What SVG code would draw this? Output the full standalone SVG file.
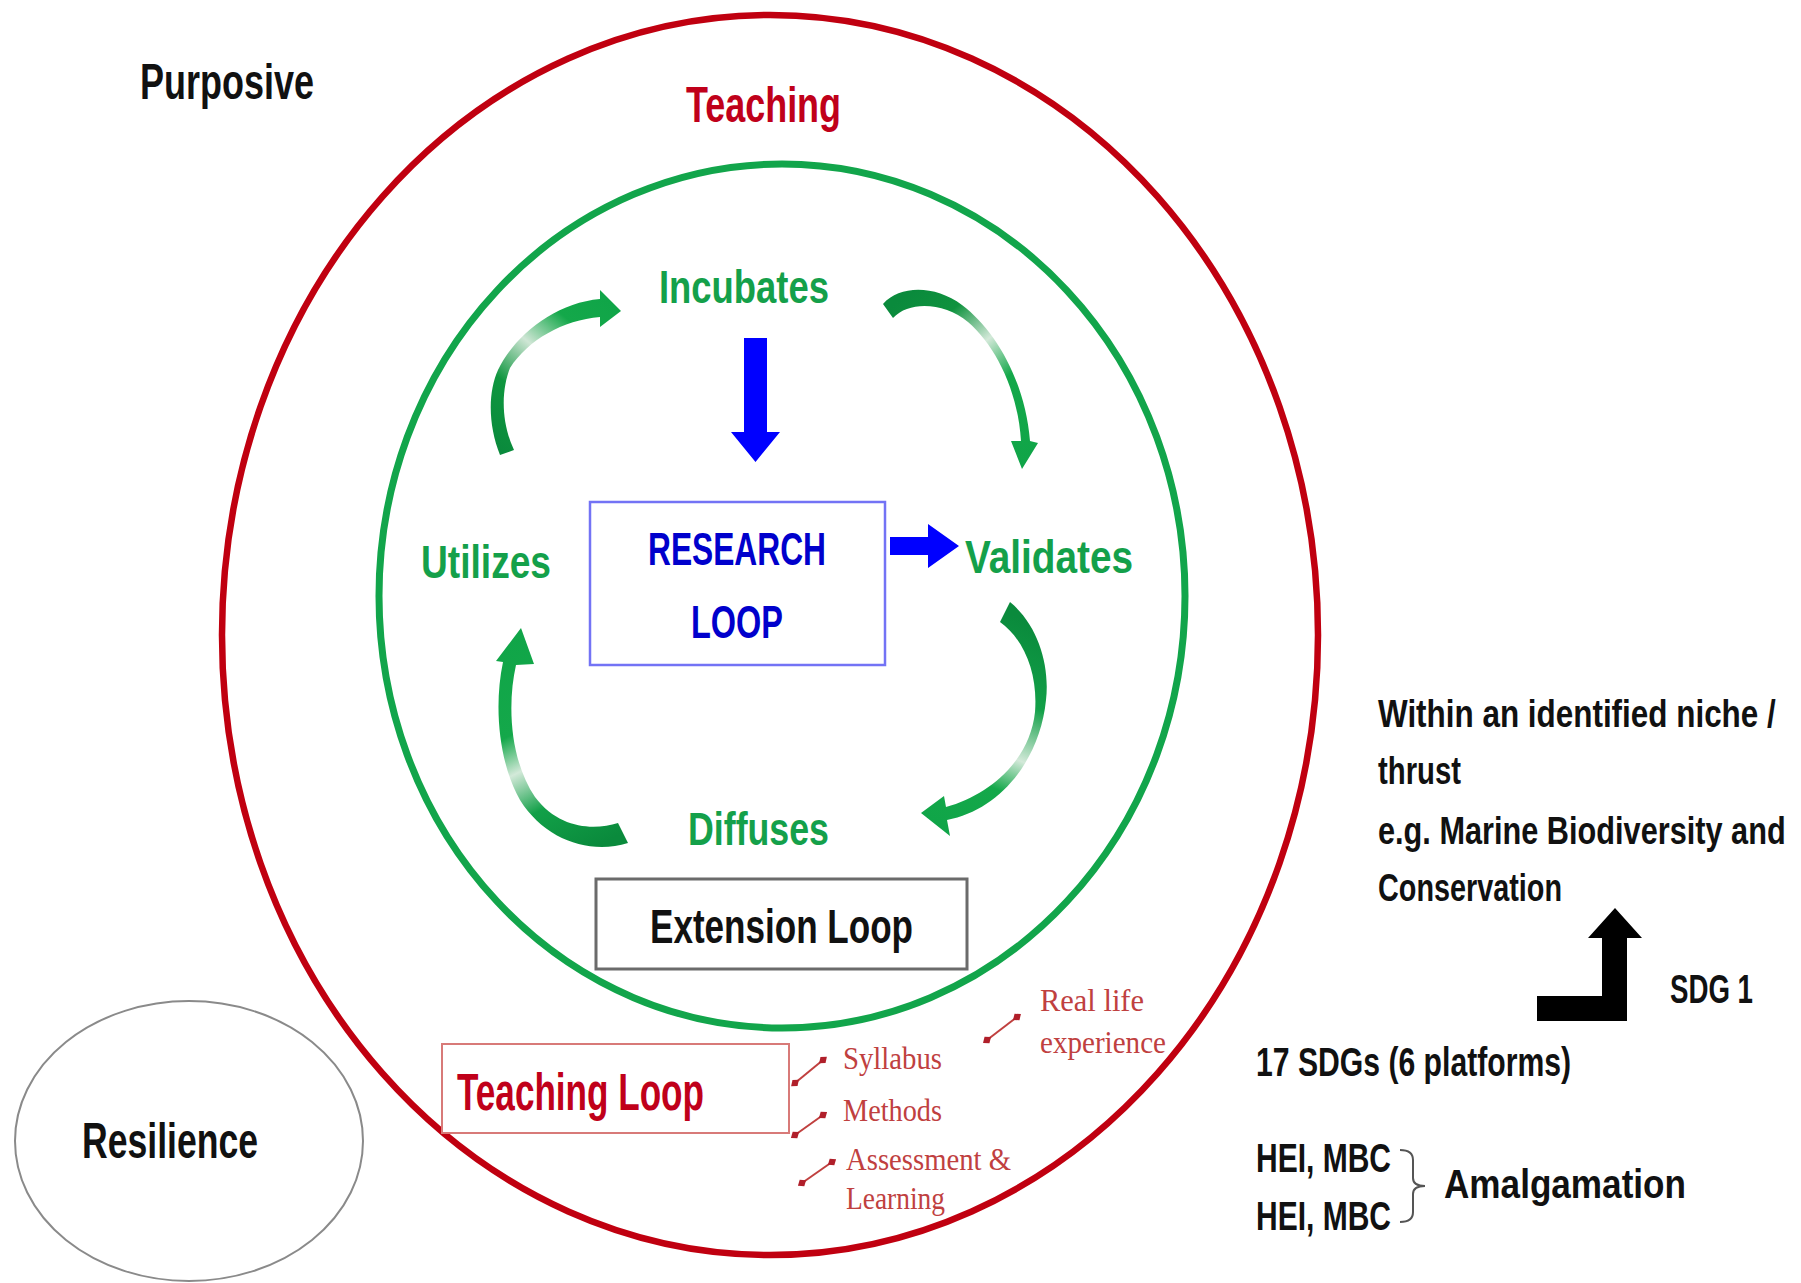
<svg xmlns="http://www.w3.org/2000/svg" width="1801" height="1283" viewBox="0 0 1801 1283">
<style>
.b{font-family:"Liberation Sans",Arial,sans-serif;font-weight:700}
.k{fill:#111}
.g{fill:#14a04a}
.r{fill:#c0001a}
.bl{fill:#0000cc}
.s{font-family:"Liberation Serif","Times New Roman",serif;fill:#c0403f}
.sa{stroke:#c0403f;stroke-width:2;fill:none;marker-start:url(#dot);marker-end:url(#dot)}
</style>
<defs>
<marker id="dot" viewBox="0 0 10 10" refX="5" refY="5" markerWidth="10" markerHeight="10" orient="auto" markerUnits="userSpaceOnUse">
<path d="M0,5 L5,1 L10,5 L5,9 Z" fill="#b01f2a"/>
</marker>
<linearGradient id="gTL" gradientUnits="userSpaceOnUse" x1="502" y1="452" x2="620" y2="310">
<stop offset="0" stop-color="#0a8a3c"/><stop offset="0.3" stop-color="#0f963f"/><stop offset="0.55" stop-color="#cfe6d5"/><stop offset="0.78" stop-color="#14a84a"/><stop offset="1" stop-color="#10a548"/>
</linearGradient>
<linearGradient id="gTR" gradientUnits="userSpaceOnUse" x1="888" y1="310" x2="1021" y2="468">
<stop offset="0" stop-color="#0a8a3c"/><stop offset="0.2" stop-color="#0f923e"/><stop offset="0.42" stop-color="#d3e9d9"/><stop offset="0.62" stop-color="#14a84a"/><stop offset="1" stop-color="#10a548"/>
</linearGradient>
<linearGradient id="gBR" gradientUnits="userSpaceOnUse" x1="1005" y1="612" x2="921" y2="815">
<stop offset="0" stop-color="#0a8a3c"/><stop offset="0.35" stop-color="#12a048"/><stop offset="0.6" stop-color="#d3e9d9"/><stop offset="0.76" stop-color="#14a84a"/><stop offset="1" stop-color="#10a548"/>
</linearGradient>
<linearGradient id="gBL" gradientUnits="userSpaceOnUse" x1="623" y1="833" x2="520" y2="628">
<stop offset="0" stop-color="#0a8a3c"/><stop offset="0.25" stop-color="#12a048"/><stop offset="0.44" stop-color="#d3e9d9"/><stop offset="0.6" stop-color="#14a84a"/><stop offset="1" stop-color="#10a548"/>
</linearGradient>
</defs>
<rect width="1801" height="1283" fill="#ffffff"/>

<g id="teaching-circle">
<ellipse cx="770" cy="635" rx="548" ry="620" fill="none" stroke="#c00010" stroke-width="6.5"/>
<text class="b r" x="686" y="122" font-size="50" textLength="155" lengthAdjust="spacingAndGlyphs">Teaching</text>
</g>
<g id="research-circle">
<ellipse cx="782" cy="596" rx="403" ry="432" fill="none" stroke="#12a54b" stroke-width="7"/>
</g>

<g id="purposive">
<text class="b k" x="140" y="99" font-size="50" textLength="174" lengthAdjust="spacingAndGlyphs">Purposive</text>
</g>

<g id="incubates"><text class="b g" x="659" y="303" font-size="46" textLength="170" lengthAdjust="spacingAndGlyphs">Incubates</text></g>
<g id="utilizes"><text class="b g" x="421" y="578" font-size="46" textLength="130" lengthAdjust="spacingAndGlyphs">Utilizes</text></g>
<g id="validates"><text class="b g" x="965" y="573" font-size="46" textLength="168" lengthAdjust="spacingAndGlyphs">Validates</text></g>
<g id="diffuses"><text class="b g" x="688" y="845" font-size="46" textLength="141" lengthAdjust="spacingAndGlyphs">Diffuses</text></g>

<g id="research-loop">
<rect x="590" y="502" width="295" height="163" fill="#ffffff" stroke="#7373f5" stroke-width="2.5"/>
<text class="b bl" x="648" y="565" font-size="47" textLength="178" lengthAdjust="spacingAndGlyphs">RESEARCH</text>
<text class="b bl" x="691" y="638" font-size="47" textLength="92" lengthAdjust="spacingAndGlyphs">LOOP</text>
</g>

<g id="extension-loop">
<rect x="596" y="879" width="371" height="90" fill="#ffffff" stroke="#6b6b6b" stroke-width="3"/>
<text class="b k" x="650" y="943" font-size="48" textLength="263" lengthAdjust="spacingAndGlyphs">Extension Loop</text>
</g>

<g id="teaching-loop">
<rect x="442" y="1044" width="347" height="89" fill="#ffffff" stroke="#d87a78" stroke-width="2"/>
<text class="b r" x="457" y="1110" font-size="51" textLength="247" lengthAdjust="spacingAndGlyphs">Teaching Loop</text>
</g>

<g id="teaching-items">
<text class="s" x="1040" y="1011" font-size="32" textLength="104" lengthAdjust="spacingAndGlyphs">Real life</text>
<text class="s" x="1040" y="1053" font-size="32" textLength="126" lengthAdjust="spacingAndGlyphs">experience</text>
<text class="s" x="843" y="1069" font-size="32" textLength="99" lengthAdjust="spacingAndGlyphs">Syllabus</text>
<text class="s" x="843" y="1121" font-size="32" textLength="99" lengthAdjust="spacingAndGlyphs">Methods</text>
<text class="s" x="846" y="1170" font-size="32" textLength="165" lengthAdjust="spacingAndGlyphs">Assessment &amp;</text>
<text class="s" x="846" y="1209" font-size="32" textLength="99" lengthAdjust="spacingAndGlyphs">Learning</text>
</g>

<g id="resilience">
<ellipse cx="189" cy="1141" rx="174" ry="140" fill="none" stroke="#8a8a8a" stroke-width="2"/>
<text class="b k" x="82" y="1158" font-size="50" textLength="176" lengthAdjust="spacingAndGlyphs">Resilience</text>
</g>

<g id="niche">
<text class="b k" transform="matrix(0.806,0,0,1,1378,727)" x="0" y="0" font-size="39">Within an identified niche /</text>
<text class="b k" x="1378" y="784" font-size="39" textLength="83" lengthAdjust="spacingAndGlyphs">thrust</text>
<text class="b k" transform="matrix(0.808,0,0,1,1378,844)" x="0" y="0" font-size="38">e.g. Marine Biodiversity and</text>
<text class="b k" x="1378" y="901" font-size="39" textLength="184" lengthAdjust="spacingAndGlyphs">Conservation</text>
</g>
<g id="sdg1"><text class="b k" x="1670" y="1003" font-size="40" textLength="83" lengthAdjust="spacingAndGlyphs">SDG 1</text></g>
<g id="sdgs17"><text class="b k" x="1256" y="1076" font-size="40" textLength="315" lengthAdjust="spacingAndGlyphs">17 SDGs (6 platforms)</text></g>
<g id="hei">
<text class="b k" x="1256" y="1172" font-size="40" textLength="135" lengthAdjust="spacingAndGlyphs">HEI, MBC</text>
<text class="b k" x="1256" y="1230" font-size="40" textLength="135" lengthAdjust="spacingAndGlyphs">HEI, MBC</text>
</g>
<g id="amalgamation"><text class="b k" x="1444" y="1198" font-size="40" textLength="242" lengthAdjust="spacingAndGlyphs">Amalgamation</text></g>

<g id="connectors">
<path d="M744,338 H767 V432 H780 L755.5,462 L731,432 H744 Z" fill="#0000ff"/>
<path d="M890,537 H928 V524 L959,546 L928,568 V555 H890 Z" fill="#0000ff"/>
<path d="M500,455 C488,425 488,392 498,370 C515,335 555,303 600,299 L600,290 L621,311 L600,327 L600,317 C563,320 528,340 510,368 C502,388 500,420 514,450 Z" fill="url(#gTL)"/>
<path d="M883,304 C900,285 935,285 962,305 C995,330 1025,380 1030,441 L1038,443 L1022,469 L1011,441 L1021,441 C1018,390 995,345 968,322 C945,303 910,300 893,318 Z" fill="url(#gTR)"/>
<path d="M1010,602 C1038,625 1050,665 1046,700 C1040,760 1000,810 947,820 L950,836 L921,813 L944,796 L946,807 C990,795 1030,760 1035,712 C1038,675 1025,640 1000,622 Z" fill="url(#gBR)"/>
<path d="M628,843 C590,855 545,840 520,800 C500,765 493,710 503,662 L496,661 L521,628 L534,664 L516,665 C507,705 510,760 535,797 C560,830 595,830 618,823 Z" fill="url(#gBL)"/>
<line class="sa" x1="795" y1="1083" x2="823" y2="1060"/>
<line class="sa" x1="795" y1="1135" x2="823" y2="1115"/>
<line class="sa" x1="802" y1="1183" x2="832" y2="1162"/>
<line class="sa" x1="987" y1="1040" x2="1017" y2="1017"/>
<path d="M1537,996 H1602 V938 H1588 L1615,908 L1642,938 H1627 V1021 H1537 Z" fill="#000000"/>
<path d="M1400,1150 Q1413,1150 1413,1160 L1413,1178 Q1413,1186 1425,1186 Q1413,1186 1413,1194 L1413,1212 Q1413,1222 1400,1222" fill="none" stroke="#555555" stroke-width="2"/>
</g>
</svg>
